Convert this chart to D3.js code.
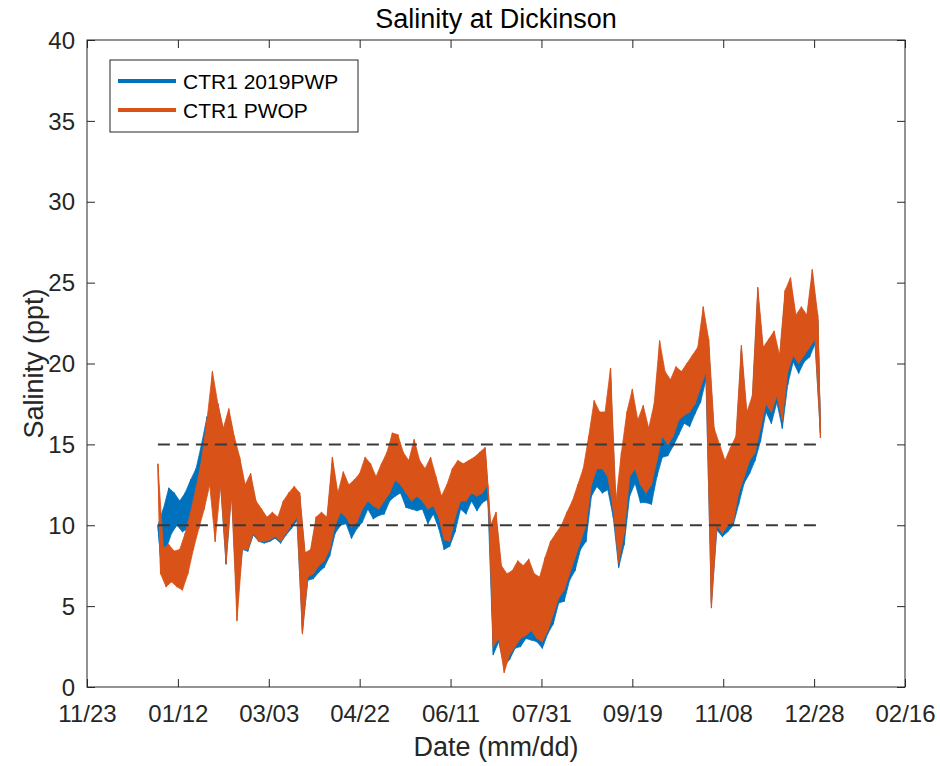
<!DOCTYPE html>
<html>
<head>
<meta charset="utf-8">
<script src="https://cdn.jsdelivr.net/npm/d3@7"></script>
<style>
  body { margin: 0; background: #fff; }
  svg { display: block; font-family: "Liberation Sans", Arial, Helvetica, sans-serif; }
</style>
</head>
<body>
<div id="chart"></div>
<script>
// Salinity readings, one pair (upper / lower swing) every 3 days from 2019-01-01
const startDate = "2019-01-01"
const stepDays = 3

const pwopHigh = [13.8, 8.6, 8.8, 8.4, 8.5, 9.5, 10.8, 12.3, 14.0, 16.5,
  19.5, 17.5, 16.0, 17.2, 15.5, 14.2, 12.5, 13.2, 11.5, 11.0,
  10.5, 10.8, 10.5, 11.5, 12.0, 12.4, 12.0, 8.3, 8.5, 10.5,
  10.8, 10.5, 14.2, 12.0, 13.3, 12.5, 12.8, 13.2, 14.2, 13.8,
  13.0, 13.8, 14.5, 15.7, 15.6, 14.5, 14.0, 15.3, 14.0, 13.5,
  14.2, 13.0, 11.8, 12.5, 13.5, 14.0, 13.8, 14.0, 14.2, 14.5,
  14.8, 10.0, 10.8, 7.5, 7.0, 7.2, 7.8, 7.5, 7.9, 7.0,
  6.8, 8.0, 9.0, 9.5, 10.0, 10.8, 11.5, 12.5, 13.5, 15.5,
  17.7, 17.0, 17.0, 19.7, 11.5, 14.5, 17.0, 18.4, 16.5, 17.4,
  16.0, 17.5, 21.4, 19.5, 19.0, 19.8, 19.5, 20.0, 20.5, 21.0,
  23.5, 21.5, 16.0, 15.0, 14.0, 14.8, 15.5, 21.1, 17.0, 18.0,
  24.7, 21.0, 21.5, 22.0, 20.5, 24.5, 25.3, 23.0, 23.5, 23.0,
  25.8, 23.0]
const pwopLow = [7.0, 6.2, 6.5, 6.2, 6.0, 7.0, 8.5, 9.8, 11.0, 12.5,
  9.0, 12.5, 7.7, 12.0, 4.1, 8.5, 8.5, 9.5, 9.0, 9.0,
  9.1, 9.3, 9.0, 9.5, 10.0, 10.5, 3.3, 6.8, 7.0, 7.5,
  7.8, 8.5, 10.0, 10.8, 10.5, 9.9, 10.2, 11.0, 11.5, 11.2,
  11.0, 11.5, 12.0, 12.8, 12.5, 12.0, 11.5, 11.8, 11.5, 11.0,
  11.2, 10.5, 9.1, 9.0, 10.5, 11.5, 11.5, 12.0, 11.8, 12.0,
  12.5, 2.5, 3.0, 0.9, 2.0, 2.5, 3.0, 3.2, 3.5, 3.0,
  2.8, 3.5, 4.5, 5.5, 6.0, 7.0, 8.0, 9.0, 10.0, 12.5,
  13.5, 13.5, 13.0, 11.0, 7.7, 9.5, 13.0, 13.5, 12.5, 12.0,
  12.5, 14.0, 15.5, 15.0, 15.5, 16.5, 16.8, 17.0, 17.5, 18.5,
  19.5, 4.9, 10.0, 9.5, 10.0, 10.2, 12.0, 13.0, 14.0, 14.5,
  16.0, 17.5, 17.0, 18.0, 16.5, 19.5, 20.5, 20.0, 20.5, 21.0,
  21.5, 15.4]

const pwpHigh = [10.0, 11.0, 12.3, 12.0, 11.5, 12.0, 12.8, 13.5, 15.0, 16.7,
  17.0, 17.5, 15.8, 17.0, 15.3, 14.0, 12.3, 13.0, 11.3, 10.8,
  10.3, 10.6, 10.3, 11.3, 11.8, 12.2, 11.8, 8.1, 8.3, 10.3,
  10.6, 10.3, 13.8, 11.7, 13.0, 12.2, 12.5, 12.9, 13.9, 13.5,
  12.7, 13.5, 14.2, 15.4, 15.3, 14.2, 13.7, 15.0, 13.7, 13.2,
  13.9, 12.7, 11.5, 12.2, 13.2, 13.7, 13.5, 13.7, 13.9, 14.2,
  14.5, 9.7, 10.5, 7.2, 6.7, 6.9, 7.5, 7.2, 7.6, 6.7,
  6.5, 7.7, 8.7, 9.2, 9.7, 10.5, 11.2, 12.2, 13.2, 15.0,
  17.2, 16.5, 16.5, 19.2, 11.0, 14.0, 16.5, 17.9, 16.0, 16.9,
  15.5, 17.0, 20.9, 19.0, 18.5, 19.3, 19.0, 19.5, 20.0, 20.5,
  23.0, 21.0, 15.7, 14.7, 13.7, 14.5, 15.2, 20.8, 16.7, 17.7,
  24.4, 20.7, 21.2, 21.7, 20.2, 24.2, 25.0, 22.7, 23.2, 22.7,
  25.5, 22.7]
const pwpLow = [8.0, 8.5, 9.5, 10.0, 9.6, 9.8, 10.5, 11.0, 11.5, 13.0,
  12.0, 12.5, 7.6, 12.0, 5.2, 8.5, 8.4, 9.4, 9.0, 8.9,
  9.0, 9.2, 8.9, 9.4, 9.8, 10.3, 3.5, 6.6, 6.7, 7.1,
  7.4, 8.1, 9.5, 10.0, 10.1, 9.2, 9.8, 10.2, 11.0, 10.4,
  10.6, 10.7, 11.5, 11.8, 12.0, 11.1, 11.0, 10.9, 11.0, 10.1,
  10.7, 9.8, 8.5, 8.7, 9.6, 11.0, 10.7, 11.5, 10.9, 11.4,
  11.6, 2.0, 2.8, 1.3, 1.7, 2.4, 2.5, 3.0, 2.9, 2.8,
  2.4, 3.3, 3.9, 5.2, 5.3, 6.6, 7.2, 8.5, 9.0, 11.8,
  12.4, 12.0, 12.2, 10.5, 7.4, 8.8, 11.8, 12.6, 11.4, 11.4,
  11.3, 13.0, 14.2, 14.3, 14.9, 15.6, 16.3, 16.1, 16.9, 17.6,
  19.0, 5.2, 9.7, 9.3, 9.6, 10.0, 11.3, 12.6, 13.2, 14.0,
  15.2, 17.0, 16.3, 17.6, 16.0, 18.7, 20.1, 19.4, 20.1, 20.4,
  21.2, 15.7]

const seriesNames = ["CTR1 2019PWP", "CTR1 PWOP"]
const seriesColors = ["#0072BD", "#D95319"]

const refLevels = [10, 15]
const xTickDates = ["2018-11-23", "2019-01-12", "2019-03-03", "2019-04-22", "2019-06-11",
  "2019-07-31", "2019-09-19", "2019-11-08", "2019-12-28", "2020-02-16"]
const yTicks = [0, 5, 10, 15, 20, 25, 30, 35, 40]

const width = 940
const height = 766
const margin = { top: 40, right: 35, bottom: 79, left: 87 }
const innerW = width - margin.left - margin.right
const innerH = height - margin.top - margin.bottom
const axisColor = "#262626"

const parse = d3.utcParse("%Y-%m-%d")
const fmt = d3.utcFormat("%m/%d")
const day = 24 * 3600 * 1000

const x = d3.scaleUtc()
  .domain([parse(xTickDates[0]), parse(xTickDates[xTickDates.length - 1])])
  .range([0, innerW])

const y = d3.scaleLinear()
  .domain([0, 40])
  .range([innerH, 0])

// one record per reading pair: upper swing on the sample day, lower swing half a step later
function toSwings(high, low) {
  const t0 = parse(startDate).getTime()
  return high.map((h, i) => ({
    hiDate: new Date(t0 + i * stepDays * day),
    hi: h,
    loDate: new Date(t0 + (i + 0.5) * stepDays * day),
    lo: low[i]
  }))
}

const series = [toSwings(pwpHigh, pwpLow), toSwings(pwopHigh, pwopLow)]

const svg = d3.select("#chart")
  .append("svg")
  .attr("width", width)
  .attr("height", height)

const g = svg.append("g")
  .attr("transform", `translate(${margin.left},${margin.top})`)

// the hourly trace is a dense band: fill between the swings, then trace the zigzag
const band = d3.area()
  .x1(d => x(d.hiDate))
  .y1(d => y(d.hi))
  .x0(d => x(d.loDate))
  .y0(d => y(d.lo))

const line = d3.line()
  .x(d => x(d[0]))
  .y(d => y(d[1]))

series.forEach((swings, i) => {
  g.append("path")
    .datum(swings)
    .attr("fill", seriesColors[i])
    .attr("stroke", seriesColors[i])
    .attr("stroke-width", 0.8)
    .attr("d", band)
  g.append("path")
    .datum(swings.flatMap(s => [[s.hiDate, s.hi], [s.loDate, s.lo]]))
    .attr("fill", "none")
    .attr("stroke", seriesColors[i])
    .attr("stroke-width", 1.2)
    .attr("stroke-linejoin", "round")
    .attr("d", line)
})

// reference lines across the data period
const refStart = parse(startDate)
const refEnd = new Date(parse(startDate).getTime() + (pwopHigh.length - 0.5) * stepDays * day)
refLevels.forEach(v => {
  g.append("line")
    .attr("x1", x(refStart))
    .attr("x2", x(refEnd))
    .attr("y1", y(v))
    .attr("y2", y(v))
    .attr("stroke", "#3a3a3a")
    .attr("stroke-width", 2)
    .attr("stroke-dasharray", "12,7")
})

// axes: MATLAB-style box with inward ticks on every side
const tickLen = 8
const xTicks = xTickDates.map(parse)

g.append("g")
  .attr("transform", `translate(0,${innerH})`)
  .call(d3.axisBottom(x).tickValues(xTicks).tickFormat(fmt).tickSizeInner(-tickLen).tickSizeOuter(0).tickPadding(18))
g.append("g")
  .call(d3.axisTop(x).tickValues(xTicks).tickFormat("").tickSizeInner(-tickLen).tickSizeOuter(0))
const yAxis = g.append("g")
  .call(d3.axisLeft(y).tickValues(yTicks).tickSizeInner(-tickLen).tickSizeOuter(0).tickPadding(12))
g.append("g")
  .attr("transform", `translate(${innerW},0)`)
  .call(d3.axisRight(y).tickValues(yTicks).tickFormat("").tickSizeInner(-tickLen).tickSizeOuter(0))

g.selectAll(".domain").remove()
g.selectAll(".tick line").attr("stroke", axisColor)
g.selectAll(".tick text")
  .attr("fill", axisColor)
  .attr("font-size", "24px")
  .attr("font-family", "Liberation Sans, Arial, sans-serif")
yAxis.selectAll(".tick text").attr("dy", "0.34em")

g.append("rect")
  .attr("width", innerW)
  .attr("height", innerH)
  .attr("fill", "none")
  .attr("stroke", axisColor)
  .attr("stroke-width", 1)

// title and axis labels
svg.append("text")
  .attr("x", margin.left + innerW / 2)
  .attr("y", 28)
  .attr("text-anchor", "middle")
  .attr("font-size", "27px")
  .attr("fill", "#000")
  .text("Salinity at Dickinson")

svg.append("text")
  .attr("x", margin.left + innerW / 2)
  .attr("y", 756)
  .attr("text-anchor", "middle")
  .attr("font-size", "27px")
  .attr("fill", axisColor)
  .text("Date (mm/dd)")

svg.append("text")
  .attr("transform", `translate(33,${margin.top + innerH / 2}) rotate(-90)`)
  .attr("text-anchor", "middle")
  .attr("dy", "0.36em")
  .attr("font-size", "27px")
  .attr("fill", axisColor)
  .text("Salinity (ppt)")

// legend
const legend = svg.append("g").attr("transform", "translate(110,60)")
legend.append("rect")
  .attr("width", 248)
  .attr("height", 72)
  .attr("fill", "#fff")
  .attr("stroke", axisColor)
  .attr("stroke-width", 1)

seriesNames.forEach((name, i) => {
  const row = legend.append("g").attr("transform", `translate(0,${21 + i * 29})`)
  row.append("line")
    .attr("x1", 8)
    .attr("x2", 66)
    .attr("stroke", seriesColors[i])
    .attr("stroke-width", 4)
  row.append("text")
    .attr("x", 73)
    .attr("dy", "0.36em")
    .attr("font-size", "21px")
    .attr("fill", "#000")
    .text(name)
})
</script>
</body>
</html>
